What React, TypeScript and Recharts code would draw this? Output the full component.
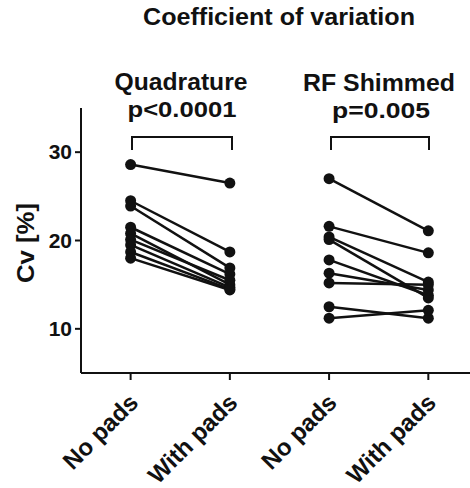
import React from "react";
import { LineChart, Line, XAxis, YAxis } from "recharts";

const tickLabels = ["No pads", "With pads", "No pads", "With pads"];
const groupNames = ["Quadrature", "RF Shimmed"];
const pValues = ["p<0.0001", "p=0.005"];

const quadNoPads = [28.6, 24.5, 23.9, 21.5, 20.8, 20.1, 19.5, 18.7, 18.0];
const quadWithPads = [26.5, 18.7, 16.9, 16.2, 15.0, 15.5, 14.7, 14.5, 14.4];
const rfNoPads = [27.0, 21.6, 20.4, 20.1, 17.8, 16.3, 15.2, 12.5, 11.2];
const rfWithPads = [21.1, 18.6, 15.3, 13.5, 13.8, 14.4, 15.0, 11.2, 12.1];

const font = "'Liberation Sans', Arial, sans-serif";

// one little series per subject: before -> after
const pairs = [
  ...quadNoPads.map((v, i) => [
    { x: 1, y: v },
    { x: 2, y: quadWithPads[i] },
  ]),
  ...rfNoPads.map((v, i) => [
    { x: 3, y: v },
    { x: 4, y: rfWithPads[i] },
  ]),
];

const XTick = ({ x, y, payload }: any) => (
  <g transform={`translate(${x + 9},${y + 22})`}>
    <text
      transform="rotate(-45)"
      textAnchor="end"
      fontFamily={font}
      fontWeight="bold"
      fontSize={24}
      fill="#111"
    >
      {tickLabels[payload.value - 1]}
    </text>
  </g>
);

const YTick = ({ x, y, payload }: any) => (
  <text
    x={x - 1}
    y={y}
    dy={7}
    textAnchor="end"
    fontFamily={font}
    fontWeight="bold"
    fontSize={21}
    fill="#111"
  >
    {payload.value}
  </text>
);

const App = () => {
  return (
    <div style={{ position: "absolute", left: 0, top: 0, width: 470, height: 488, background: "#fff", overflow: "hidden" }}>
      <LineChart
        width={470}
        height={488}
        margin={{ top: 108, right: 0, bottom: 0, left: 0 }}
      >
        <XAxis
          dataKey="x"
          type="number"
          domain={[0.5, 4.42]}
          ticks={[1, 2, 3, 4]}
          allowDuplicatedCategory={false}
          height={115}
          tickSize={7}
          stroke="#111"
          strokeWidth={2}
          tick={<XTick />}
        />
        <YAxis
          type="number"
          domain={[5, 35]}
          ticks={[10, 20, 30]}
          width={81}
          tickSize={6}
          stroke="#111"
          strokeWidth={2}
          tick={<YTick />}
        />
        {pairs.map((d, i) => (
          <Line
            key={i}
            data={d}
            dataKey="y"
            stroke="#111"
            strokeWidth={2.5}
            dot={{ r: 5.5, fill: "#111", stroke: "#111", strokeWidth: 0 }}
            isAnimationActive={false}
          />
        ))}
      </LineChart>
      <svg
        width={470}
        height={488}
        style={{ position: "absolute", left: 0, top: 0, pointerEvents: "none" }}
      >
        <g fontFamily={font} fontWeight="bold" fill="#111" textAnchor="middle">
          <text x={279} y={25} fontSize={23} textLength={272} lengthAdjust="spacingAndGlyphs">
            Coefficient of variation
          </text>
          <text x={181} y={90} fontSize={23} textLength={133} lengthAdjust="spacingAndGlyphs">
            {groupNames[0]}
          </text>
          <text x={182} y={117} fontSize={22} textLength={109} lengthAdjust="spacingAndGlyphs">
            {pValues[0]}
          </text>
          <text x={379} y={91} fontSize={23} textLength={152} lengthAdjust="spacingAndGlyphs">
            {groupNames[1]}
          </text>
          <text x={381} y={118} fontSize={22} textLength={98} lengthAdjust="spacingAndGlyphs">
            {pValues[1]}
          </text>
          <text
            transform="translate(34,243) rotate(-90)"
            fontSize={24}
            textLength={80}
            lengthAdjust="spacingAndGlyphs"
          >
            Cv [%]
          </text>
        </g>
        <g stroke="#111" strokeWidth={2} fill="none">
          <polyline points="132,150 132,137 232,137 232,150" />
          <polyline points="331,150 331,137 429,137 429,150" />
        </g>
      </svg>
    </div>
  );
};

export default App;
